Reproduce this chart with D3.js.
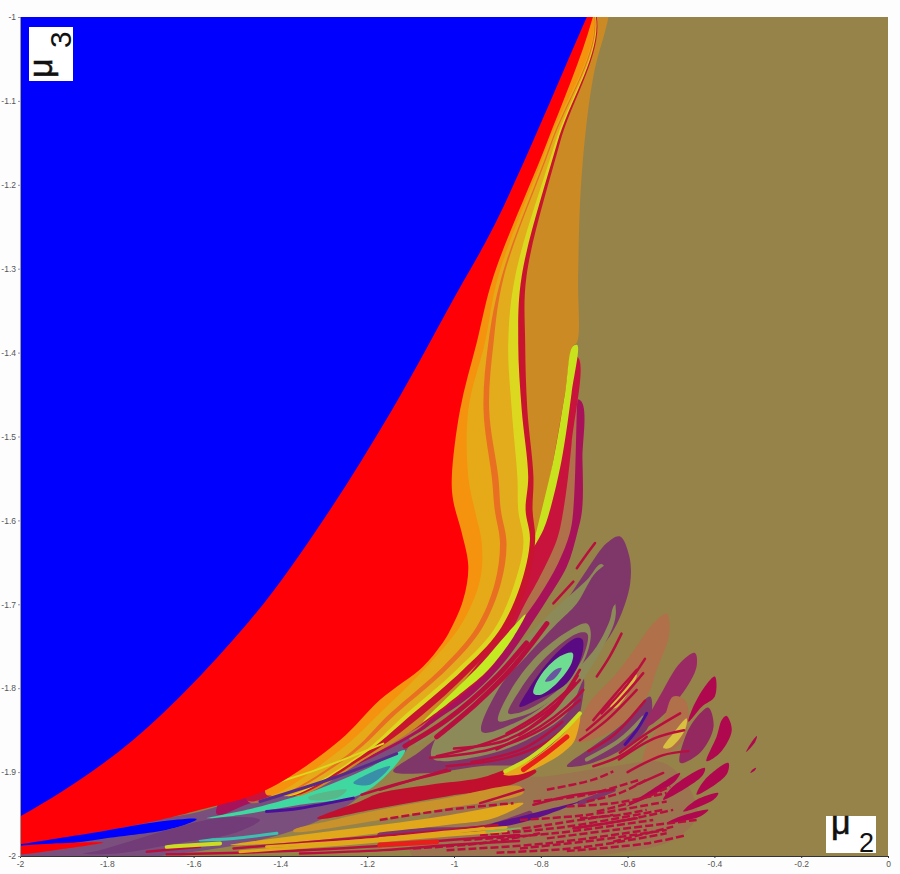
<!DOCTYPE html>
<html>
<head>
<meta charset="utf-8">
<script src="https://cdn.jsdelivr.net/npm/d3@7"></script>
<style>
body { margin: 0; background: #fdfdfd; }
svg { display: block; }
.tick text { font-family: "Liberation Sans", sans-serif; font-size: 8.5px; fill: #555; }
</style>
</head>
<body>
<svg id="chart" width="900" height="874"></svg>
<script>
// tick values
const xTicks = [-2, -1.8, -1.6, -1.4, -1.2, -1, -0.8, -0.6, -0.4, -0.2, 0];
const yTicks = [-1, -1.1, -1.2, -1.3, -1.4, -1.5, -1.6, -1.7, -1.8, -1.9, -2];

const blueEdge = [[-0.61, -0.9], [-0.694, -1], [-0.901, -1.242], [-1.002, -1.337], [-1.147, -1.472], [-1.302, -1.6], [-1.47, -1.719], [-1.74, -1.862], [-2, -1.953], [-2.2, -2.0], [-2.2, -0.8], [-0.6, -0.8]];
const redEdge = [[-0.68, -1], [-0.786, -1.15], [-0.909, -1.309], [-0.948, -1.389], [-0.986, -1.468], [-1.005, -1.548], [-1.002, -1.576], [-0.982, -1.615], [-0.967, -1.655], [-0.979, -1.695], [-1.013, -1.735], [-1.032, -1.75], [-1.071, -1.774], [-1.171, -1.814], [-1.263, -1.862], [-1.432, -1.921], [-1.585, -1.945], [-1.677, -1.957], [-1.816, -1.971], [-2, -1.986], [-2.2, -1.99], [-2.2, -0.8], [-0.6, -0.8]];
const coreUpper = [[-1.286, -1.743], [-1.124, -1.576], [-0.917, -1.278], [-0.8, -0.9]];
const coreLower = [[-1.286, -1.743], [-1.05, -1.62]];

const arcOrange = [[-0.678, -1], [-0.782, -1.15], [-0.898, -1.309], [-0.929, -1.389], [-0.967, -1.468], [-0.967, -1.548], [-0.952, -1.588], [-0.936, -1.627], [-0.94, -1.671], [-0.982, -1.723], [-1.055, -1.77], [-1.171, -1.83], [-1.263, -1.874], [-1.432, -1.927]];
const arcGoldOuter = [[-0.677, -1], [-0.777, -1.15], [-0.89, -1.309], [-0.921, -1.389], [-0.932, -1.468], [-0.913, -1.548], [-0.906, -1.588], [-0.894, -1.627], [-0.906, -1.675], [-0.948, -1.727], [-1.025, -1.774], [-1.147, -1.83], [-1.247, -1.88], [-1.424, -1.927]];
const arcDarkOrange = [[-0.675, -1], [-0.774, -1.15], [-0.885, -1.309], [-0.909, -1.389], [-0.919, -1.468], [-0.898, -1.548], [-0.892, -1.588], [-0.879, -1.627], [-0.892, -1.675], [-0.936, -1.729], [-1.013, -1.776], [-1.132, -1.83], [-1.24, -1.881], [-1.417, -1.927]];
const arcGoldInner = [[-0.674, -1], [-0.767, -1.15], [-0.859, -1.309], [-0.875, -1.389], [-0.867, -1.468], [-0.854, -1.548], [-0.852, -1.588], [-0.84, -1.627], [-0.863, -1.679], [-0.909, -1.731], [-0.994, -1.778], [-1.109, -1.83], [-1.224, -1.882], [-1.4, -1.927]];
const arcYellow = [[-0.673, -1], [-0.762, -1.15], [-0.844, -1.309], [-0.852, -1.389], [-0.844, -1.468], [-0.829, -1.548], [-0.835, -1.588], [-0.825, -1.623], [-0.848, -1.679], [-0.898, -1.733], [-0.979, -1.778], [-1.094, -1.83], [-1.217, -1.882], [-1.393, -1.927]];
const arcCrimson = [[-0.671, -1], [-0.756, -1.15], [-0.833, -1.309], [-0.836, -1.389], [-0.831, -1.468], [-0.817, -1.548], [-0.819, -1.588], [-0.813, -1.623], [-0.833, -1.679], [-0.883, -1.733], [-0.967, -1.782], [-1.078, -1.834], [-1.205, -1.882], [-1.385, -1.927]];
const arcOchre = [[-0.625, -0.93], [-0.644, -1], [-0.679, -1.071], [-0.706, -1.19], [-0.714, -1.309], [-0.716, -1.387], [-0.727, -1.393], [-0.744, -1.448], [-0.771, -1.528], [-0.793, -1.587], [-0.816, -1.623], [-0.84, -1.651], [-0.856, -1.687], [-0.886, -1.727], [-0.944, -1.77], [-1.055, -1.834], [-1.19, -1.88], [-1.374, -1.927]];
const arcMagenta = [[-0.712, -1.456], [-0.704, -1.528], [-0.705, -1.588], [-0.716, -1.615], [-0.74, -1.655], [-0.786, -1.695], [-0.829, -1.729], [-0.886, -1.77], [-0.963, -1.81], [-1.04, -1.838], [-1.078, -1.852], [-1.201, -1.886], [-1.316, -1.911], [-1.47, -1.937], [-1.547, -1.95]];
const arcBrown = [[-0.714, -1.405], [-0.717, -1.468], [-0.725, -1.587], [-0.733, -1.615], [-0.76, -1.651], [-0.802, -1.689], [-0.848, -1.723], [-0.902, -1.766], [-0.975, -1.804], [-1.048, -1.834], [-1.086, -1.85], [-1.209, -1.884], [-1.324, -1.909], [-1.474, -1.935]];
const arcCrimsonWide = [[-0.717, -1.405], [-0.729, -1.508], [-0.748, -1.588], [-0.763, -1.623], [-0.802, -1.667], [-0.84, -1.703], [-0.906, -1.77], [-0.982, -1.808], [-1.063, -1.84], [-1.094, -1.85], [-1.217, -1.882], [-1.33, -1.907], [-1.478, -1.933]];

const limeTip = [[-0.716, -1.391], [-0.729, -1.448], [-0.752, -1.528], [-0.779, -1.588], [-0.794, -1.611], [-0.829, -1.643], [-0.84, -1.653], [-0.816, -1.623], [-0.802, -1.596], [-0.771, -1.528], [-0.744, -1.448], [-0.727, -1.393]];
const limeLower = [[-0.835, -1.712], [-0.863, -1.739], [-0.921, -1.778], [-0.979, -1.804], [-1.071, -1.84], [-0.994, -1.8], [-0.936, -1.77], [-0.879, -1.736]];

// spiral around the centre
const ellipseMauve = [[-1.14, -1.899], [-1.078, -1.875], [-1.009, -1.846], [-0.94, -1.814], [-0.871, -1.778], [-0.81, -1.742], [-0.756, -1.707], [-0.694, -1.659], [-0.648, -1.627], [-0.618, -1.619], [-0.596, -1.643], [-0.594, -1.675], [-0.614, -1.711], [-0.641, -1.738], [-0.679, -1.762], [-0.7, -1.776], [-0.7, -1.798], [-0.717, -1.846], [-0.737, -1.871], [-0.802, -1.889], [-0.94, -1.893], [-1.055, -1.901]];
const ellipseOlive = [[-0.66, -1.652], [-0.694, -1.671], [-0.771, -1.707], [-0.863, -1.754], [-0.94, -1.79], [-1.009, -1.83], [-1.051, -1.883], [-0.94, -1.881], [-0.833, -1.862], [-0.74, -1.83], [-0.702, -1.79], [-0.664, -1.758], [-0.627, -1.711]];
const ellipseInner = [[-0.936, -1.852], [-0.894, -1.798], [-0.833, -1.762], [-0.763, -1.723], [-0.717, -1.699], [-0.671, -1.661], [-0.633, -1.651], [-0.614, -1.691], [-0.633, -1.703], [-0.641, -1.719], [-0.671, -1.75], [-0.717, -1.778], [-0.786, -1.818], [-0.863, -1.842]];
const ringOlive = [[-0.898, -1.839], [-0.871, -1.804], [-0.81, -1.762], [-0.74, -1.733], [-0.694, -1.723], [-0.685, -1.733], [-0.696, -1.762], [-0.74, -1.798], [-0.81, -1.826], [-0.863, -1.836]];
const ringMauve = [[-0.875, -1.83], [-0.848, -1.802], [-0.786, -1.762], [-0.717, -1.735], [-0.693, -1.735], [-0.702, -1.762], [-0.744, -1.794], [-0.81, -1.82], [-0.856, -1.83]];
const ringPurple = [[-0.849, -1.822], [-0.829, -1.802], [-0.771, -1.762], [-0.717, -1.74], [-0.704, -1.742], [-0.706, -1.762], [-0.74, -1.794], [-0.81, -1.814]];
const ringGreen = [[-0.817, -1.806], [-0.802, -1.786], [-0.756, -1.762], [-0.727, -1.758], [-0.729, -1.77], [-0.763, -1.794], [-0.802, -1.808]];
const ringCentre = [[-0.79, -1.792], [-0.767, -1.778], [-0.752, -1.776], [-0.772, -1.79]];

// leaves of the fan on the right
const fanBrown = [[-0.51, -1.711], [-0.504, -1.735], [-0.533, -1.778], [-0.556, -1.81], [-0.633, -1.85], [-0.721, -1.863], [-0.694, -1.822], [-0.625, -1.782], [-0.579, -1.75], [-0.541, -1.723]];
const fanMauve = [[-0.548, -1.81], [-0.552, -1.846], [-0.606, -1.871], [-0.694, -1.891], [-0.74, -1.893], [-0.679, -1.869], [-0.61, -1.842]];
const fanYellow = [[-0.64, -1.822], [-0.618, -1.802], [-0.591, -1.784], [-0.579, -1.784], [-0.602, -1.808], [-0.629, -1.824]];
const leafMauve = [[-0.445, -1.758], [-0.441, -1.774], [-0.479, -1.81], [-0.541, -1.842], [-0.56, -1.846], [-0.518, -1.802], [-0.479, -1.77]];
const leafBrown = [[-0.495, -1.81], [-0.468, -1.814], [-0.46, -1.834], [-0.479, -1.866], [-0.564, -1.889], [-0.556, -1.869], [-0.518, -1.838]];
const leafYellow = [[-0.518, -1.871], [-0.495, -1.854], [-0.464, -1.836], [-0.468, -1.85], [-0.502, -1.871]];
const leafMauve2 = [[-0.414, -1.823], [-0.402, -1.846], [-0.433, -1.877], [-0.479, -1.889], [-0.464, -1.854], [-0.433, -1.83]];
const shardA = [[-0.399, -1.786], [-0.399, -1.81], [-0.429, -1.822], [-0.46, -1.84], [-0.452, -1.826], [-0.422, -1.798]];
const shardB = [[-0.372, -1.833], [-0.36, -1.85], [-0.387, -1.877], [-0.418, -1.887], [-0.395, -1.858], [-0.383, -1.838]];
const shardC = [[-0.302, -1.857], [-0.306, -1.864], [-0.327, -1.876], [-0.314, -1.864]];
const shardD = [[-0.304, -1.895], [-0.307, -1.898], [-0.317, -1.901], [-0.312, -1.897]];
const shardE = [[-0.368, -1.889], [-0.372, -1.903], [-0.441, -1.927], [-0.422, -1.909]];
const shardF = [[-0.422, -1.895], [-0.429, -1.905], [-0.518, -1.933], [-0.495, -1.917]];
const shardG = [[-0.391, -1.925], [-0.402, -1.933], [-0.472, -1.947], [-0.441, -1.933]];
const shardH = [[-0.414, -1.945], [-0.433, -1.953], [-0.51, -1.961], [-0.479, -1.953]];
const shardI = [[-0.556, -1.925], [-0.479, -1.901], [-0.495, -1.913], [-0.602, -1.941]];

// bands along the bottom
const bottomFan = [[-0.902, -1.909], [-0.786, -1.905], [-0.633, -1.893], [-0.518, -1.889], [-0.456, -1.921], [-0.441, -1.953], [-0.495, -1.981], [-0.633, -1.997], [-0.786, -2.001], [-1.094, -2.001], [-1.094, -1.973]];
const flame = [[-0.886, -1.903], [-0.81, -1.881], [-0.748, -1.854], [-0.71, -1.83], [-0.721, -1.861], [-0.74, -1.873], [-0.786, -1.889], [-0.848, -1.903]];
const bandCrimson = [[-1.316, -1.955], [-1.217, -1.935], [-1.171, -1.925], [-1.055, -1.915], [-0.94, -1.907], [-0.848, -1.893], [-0.81, -1.899], [-0.879, -1.917], [-1.017, -1.929], [-1.171, -1.943], [-1.309, -1.956]];
const bandOchre = [[-1.37, -1.969], [-1.278, -1.957], [-1.171, -1.945], [-1.017, -1.931], [-0.848, -1.917], [-0.84, -1.925], [-1.017, -1.943], [-1.171, -1.957], [-1.37, -1.971]];
const bandGold = [[-1.516, -1.987], [-1.355, -1.975], [-1.171, -1.963], [-1.009, -1.951], [-0.84, -1.937], [-0.909, -1.955], [-1.017, -1.963], [-1.171, -1.973], [-1.355, -1.983]];
const bandPurple = [[-0.917, -1.963], [-0.833, -1.951], [-0.74, -1.939], [-0.71, -1.935], [-0.81, -1.955], [-0.894, -1.965]];

// wedge at the bottom left
const wedgeBase = [[-1.101, -1.862], [-1.217, -1.929], [-1.309, -1.957], [-1.447, -1.981], [-1.662, -1.999], [-1.816, -2.005], [-2.05, -2.01], [-2.05, -1.98], [-1.585, -1.947], [-1.278, -1.882], [-1.163, -1.854]];
const wedgeGreen = [[-1.113, -1.874], [-1.14, -1.895], [-1.217, -1.927], [-1.355, -1.939], [-1.493, -1.951], [-1.57, -1.955], [-1.462, -1.943], [-1.316, -1.921], [-1.205, -1.897]];
const wedgeTeal = [[-1.147, -1.893], [-1.194, -1.915], [-1.232, -1.913], [-1.194, -1.901]];
const wedgeMint = [[-1.336, -1.93], [-1.247, -1.921], [-1.27, -1.931], [-1.332, -1.933]];
const wedgeMauve = [[-1.447, -1.957], [-1.547, -1.955], [-1.816, -1.993], [-1.854, -1.997], [-1.777, -1.997], [-1.639, -1.985], [-1.508, -1.973]];
const blueStrip = [[-1.593, -1.956], [-1.677, -1.959], [-1.816, -1.971], [-2, -1.986], [-2.05, -1.99], [-2.05, -1.995], [-2, -1.993], [-1.816, -1.98], [-1.647, -1.967]];
const redStrip = [[-2.05, -1.993], [-1.808, -1.984], [-1.892, -1.991], [-2.05, -1.998]];

// thin streaks
const crimsonStreaks = [
  [[-1.04, -1.881], [-0.94, -1.868], [-0.84, -1.846], [-0.763, -1.818], [-0.71, -1.79]],
  [[-0.902, -1.873], [-0.802, -1.846], [-0.74, -1.822], [-0.702, -1.802]],
  [[-0.879, -1.854], [-0.802, -1.83], [-0.721, -1.794]],
  [[-1.017, -1.893], [-0.879, -1.883], [-0.786, -1.864], [-0.717, -1.834]],
  [[-1.055, -1.883], [-0.917, -1.873], [-0.802, -1.85], [-0.71, -1.814]],
  [[-1.0, -1.872], [-0.88, -1.862], [-0.78, -1.828], [-0.71, -1.778]],
  [[-0.96, -1.888], [-0.84, -1.872], [-0.75, -1.84]],
  [[-0.85, -1.856], [-0.77, -1.826], [-0.715, -1.785]],
  [[-1.213, -1.927], [-1.124, -1.913], [-1.009, -1.898]],
  [[-1.171, -1.921], [-1.017, -1.897]],
  [[-0.675, -1.627], [-0.698, -1.643], [-0.717, -1.657]],
  [[-0.725, -1.673], [-0.771, -1.699]],
  [[-0.614, -1.735], [-0.641, -1.762], [-0.671, -1.786]],
  [[-0.679, -1.838], [-0.633, -1.81], [-0.579, -1.778]],
  [[-0.694, -1.85], [-0.625, -1.818], [-0.564, -1.782]],
  [[-0.71, -1.862], [-0.648, -1.838], [-0.579, -1.802]],
  [[-0.69, -1.875], [-0.63, -1.855], [-0.56, -1.815]],
  [[-0.66, -1.83], [-0.6, -1.795], [-0.56, -1.765]],
  [[-0.62, -1.885], [-0.54, -1.86], [-0.47, -1.85]],
  [[-0.6, -1.9], [-0.52, -1.88], [-0.46, -1.875]],
  [[-0.679, -1.893], [-0.618, -1.881], [-0.556, -1.858]],
  [[-0.618, -1.877], [-0.556, -1.854], [-0.479, -1.83]],
  [[-0.817, -1.939], [-0.74, -1.929], [-0.633, -1.921]],
  [[-0.94, -1.937], [-0.902, -1.931], [-0.84, -1.921]],
  [[-0.725, -1.967], [-0.648, -1.961], [-0.579, -1.955]],
  [[-0.579, -1.915], [-0.518, -1.901]],
  [[-1.508, -1.991], [-1.278, -1.981], [-1.009, -1.969], [-0.9, -1.963]],
  [[-1.662, -1.998], [-1.432, -1.995], [-1.201, -1.989], [-1.009, -1.981], [-0.85, -1.975]],
  [[-1.355, -1.997], [-1.163, -1.993], [-1.009, -1.987], [-0.85, -1.982]],
  [[-1.708, -1.995], [-1.585, -1.989]]
];
const dashedStreaks = [
  [[-0.817, -1.935], [-0.694, -1.927], [-0.572, -1.909]],
  [[-0.71, -1.955], [-0.618, -1.951], [-0.556, -1.945]],
  [[-0.725, -1.967], [-0.602, -1.957], [-0.495, -1.945]],
  [[-0.786, -1.979], [-0.633, -1.969], [-0.441, -1.957]],
  [[-0.848, -1.991], [-0.671, -1.981], [-0.51, -1.969]],
  [[-0.74, -1.994], [-0.556, -1.985], [-0.464, -1.975]],
  [[-0.671, -1.947], [-0.572, -1.933], [-0.502, -1.917]],
  [[-0.694, -1.935], [-0.618, -1.925], [-0.556, -1.909]],
  [[-0.917, -1.973], [-0.786, -1.963], [-0.633, -1.951]],
  [[-1.094, -1.991], [-0.94, -1.985], [-0.802, -1.973]],
  [[-1.017, -1.993], [-0.786, -1.985], [-0.556, -1.969]],
  [[-0.978, -1.981], [-0.771, -1.973], [-0.541, -1.957]],
  [[-0.94, -1.975], [-0.74, -1.965], [-0.518, -1.945]],
  [[-0.848, -1.957], [-0.694, -1.951], [-0.51, -1.935]],
  [[-0.902, -1.996], [-0.71, -1.99], [-0.51, -1.973]],
  [[-0.633, -1.983], [-0.495, -1.965]],
  [[-1.171, -1.957], [-1.017, -1.945], [-0.863, -1.937]],
  [[-0.786, -1.921], [-0.679, -1.909], [-0.633, -1.899]],
  [[-0.74, -1.941], [-0.633, -1.937], [-0.51, -1.925]]
];
const goldStreaks = [
  [[-1.493, -1.995], [-1.24, -1.985], [-1.009, -1.975], [-0.88, -1.97]],
  [[-1.432, -1.989], [-1.201, -1.981], [-1.009, -1.971], [-0.88, -1.966]],
  [[-1.171, -1.979], [-1.055, -1.975], [-0.932, -1.967]]
];
const oliveStreaks = [
  [[-0.788, -1.645], [-0.825, -1.679], [-0.867, -1.713]],
  [[-0.694, -1.885], [-0.618, -1.862], [-0.564, -1.835]],
  [[-0.81, -1.732], [-0.886, -1.782], [-0.978, -1.826], [-1.086, -1.866]]
];
const arcStreaks = [
  [[-0.833, -1.746], [-0.909, -1.79], [-1.017, -1.838], [-1.113, -1.869]],
  [[-0.786, -1.723], [-0.863, -1.774], [-0.948, -1.818], [-1.04, -1.858]]
];
const mauveStreaks = [
  [[-1.171, -1.975], [-1.055, -1.969], [-0.94, -1.967], [-0.825, -1.949]],
  [[-0.71, -1.937], [-0.633, -1.921]]
];
const purpleStreaks = [
  [[-1.232, -1.931], [-1.355, -1.943], [-1.432, -1.947]],
  [[-0.606, -1.867], [-0.579, -1.85], [-0.556, -1.83]]
];
const wedgePurpleLines = [
  [[-1.132, -1.878], [-1.278, -1.907], [-1.447, -1.935]]
];
const wedgeYellowLines = [
  [[-1.163, -1.866], [-1.316, -1.897], [-1.462, -1.921]]
];
const tealStreaks = [
  [[-1.408, -1.973], [-1.508, -1.979], [-1.585, -1.981]]
];
const limeStreaks = [
  [[-0.882, -1.899], [-0.825, -1.883], [-0.763, -1.858], [-0.71, -1.83]],
  [[-1.662, -1.989], [-1.539, -1.985]]
];
const greenStreaks = [
  [[-0.925, -1.971], [-0.848, -1.967]]
];
const redStreaks = [
  [[-0.84, -1.897], [-0.786, -1.877], [-0.74, -1.858]],
  [[-1.171, -1.987], [-1.04, -1.983]]
];

const svg = d3.select("#chart");
const x = d3.scaleLinear().domain([-2, 0]).range([20, 888]);
const y = d3.scaleLinear().domain([-1, -2]).range([17, 856]);

svg.append("defs").append("clipPath").attr("id", "plot")
  .append("rect")
  .attr("x", x(-2)).attr("y", y(-1))
  .attr("width", x(0) - x(-2)).attr("height", y(-2) - y(-1));

const plot = svg.append("g").attr("clip-path", "url(#plot)");

const closedShape = d3.line().x(d => x(d[0])).y(d => y(d[1])).curve(d3.curveCatmullRomClosed.alpha(0.5));
const openShape = d3.line().x(d => x(d[0])).y(d => y(d[1])).curve(d3.curveCatmullRom.alpha(0.5));

plot.append("rect")
  .attr("x", x(-2)).attr("y", y(-1))
  .attr("width", x(0) - x(-2)).attr("height", y(-2) - y(-1))
  .attr("fill", "#968349");

function fill(points, color) {
  plot.append("path").attr("d", closedShape(points)).attr("fill", color);
}
function streaks(lines, color, width, dash) {
  lines.forEach(l => {
    plot.append("path").attr("d", openShape(l))
      .attr("fill", "none").attr("stroke", color).attr("stroke-width", width)
      .attr("stroke-dasharray", dash || null)
      .attr("stroke-linecap", dash ? "butt" : "round");
  });
}

// painted back to front
fill(wedgeBase, "#7a4f7e");
fill(wedgeGreen, "#3fd8a0");
fill(wedgeTeal, "#3a8fa8");
fill(wedgeMint, "#57b98a");
streaks(tealStreaks, "#3cc0b0", 3);

fill(ellipseMauve, "#7f3769");
fill(ellipseOlive, "#8c8a58");
fill(ellipseInner, "#7f3769");
fill(ringOlive, "#8c8a58");
fill(ringMauve, "#7f3769");
fill(ringPurple, "#5a0a82");
fill(ringGreen, "#6edd92");
fill(ringCentre, "#6a55a0");

fill(fanBrown, "#b0704a");
fill(fanMauve, "#7f3769");
fill(fanYellow, "#d8c040");
fill(leafMauve, "#9a2a63");
fill(leafBrown, "#b0704a");
fill(leafYellow, "#d8c040");
fill(leafMauve2, "#93295f");
fill(bottomFan, "#9b7450");
[shardA, shardB, shardC, shardD, shardE, shardF, shardG, shardH, shardI].forEach(s => fill(s, "#b0084e"));

fill(bandCrimson, "#c0102e");
fill(bandOchre, "#c9922a");
fill(bandGold, "#e0a81a");
streaks(mauveStreaks, "#7f3769", 5);
fill(bandPurple, "#5d118a");
fill(flame, "#e8a81c");
streaks(dashedStreaks, "#b8103e", 2.5, "8 3");
streaks(crimsonStreaks, "#b8103e", 2.5);
streaks(goldStreaks, "#e0a81a", 3);
streaks(oliveStreaks, "#8c8a58", 4);
streaks(purpleStreaks, "#4a109a", 3);
streaks(redStreaks, "#e8201c", 5);
streaks(limeStreaks, "#ccdc22", 4);
streaks(greenStreaks, "#80b060", 2);

fill(arcMagenta.concat(coreLower), "#a8125a");
fill(arcBrown.concat(coreLower), "#b0704a");
fill(arcCrimsonWide.concat(coreLower), "#c8143c");
streaks(arcStreaks, "#b8103e", 5);
fill(arcOchre.concat(coreUpper), "#cb8a24");
fill(limeTip, "#c8e31e");
fill(arcCrimson.concat(coreUpper), "#c8142e");
fill(arcYellow.concat(coreUpper), "#dcd820");
fill(arcGoldInner.concat(coreUpper), "#e2ac1c");
fill(arcDarkOrange.concat(coreUpper), "#e96f22");
fill(arcGoldOuter.concat(coreUpper), "#e6aa18");
fill(arcOrange.concat(coreUpper), "#f5930f");
fill(limeLower, "#c4ea22");
streaks(wedgePurpleLines, "#5a2a8a", 3);
streaks(wedgeYellowLines, "#dcd820", 2);

fill(redEdge, "#ff0007");
fill(blueEdge, "#0000ff");
fill(blueStrip, "#0000ff");
fill(redStrip, "#ff0007");
fill(wedgeMauve, "#723c78");

// axes
const xAxis = svg.append("g").attr("transform", `translate(0,${y(-2)})`)
  .call(d3.axisBottom(x).tickValues(xTicks).tickFormat(d => String(d)).tickSize(2).tickPadding(3));
const yAxis = svg.append("g").attr("transform", `translate(${x(-2)},0)`)
  .call(d3.axisLeft(y).tickValues(yTicks).tickFormat(d => String(d)).tickSize(2).tickPadding(2));
xAxis.selectAll("line, path").attr("stroke", "#333");
yAxis.selectAll("line, path").attr("stroke", "#999");

// axis names on white boxes
svg.append("rect").attr("x", 29).attr("y", 27).attr("width", 44).attr("height", 54).attr("fill", "#fff");
svg.append("text").text("μ")
  .attr("transform", "translate(52,78) rotate(-90)")
  .attr("font-family", "Liberation Sans").attr("font-size", 34).attr("fill", "#111")
  .attr("stroke", "#111").attr("stroke-width", 0.6);
svg.append("text").text("3")
  .attr("transform", "translate(71,48) rotate(-90)")
  .attr("font-family", "Liberation Sans").attr("font-size", 30).attr("fill", "#111");

svg.append("rect").attr("x", 826).attr("y", 816).attr("width", 50).attr("height", 37).attr("fill", "#fff");
svg.append("text").text("μ")
  .attr("x", 831).attr("y", 834)
  .attr("font-family", "Liberation Sans").attr("font-size", 34).attr("fill", "#111")
  .attr("stroke", "#111").attr("stroke-width", 0.6);
svg.append("text").text("2")
  .attr("x", 859).attr("y", 852)
  .attr("font-family", "Liberation Sans").attr("font-size", 27).attr("fill", "#111");
</script>
</body>
</html>
